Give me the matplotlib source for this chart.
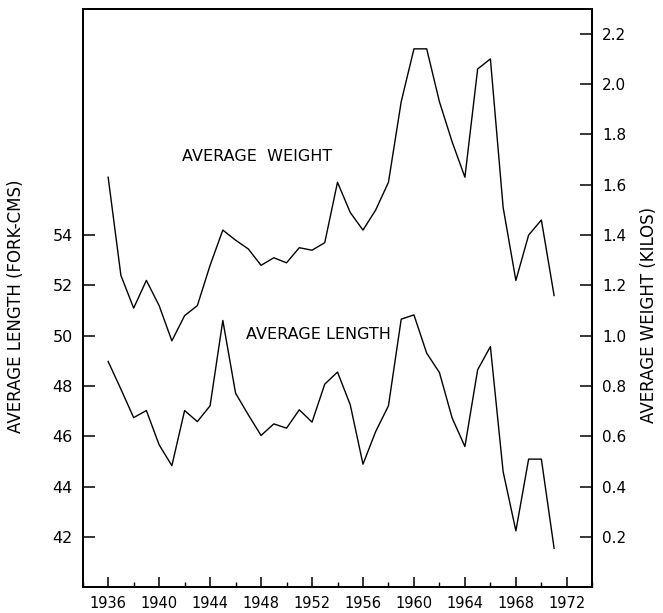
import matplotlib
matplotlib.use("Agg")
import matplotlib.pyplot as plt
from matplotlib.ticker import MultipleLocator, FixedLocator

plt.rcParams['font.family'] = 'DejaVu Sans'

# Yearly averages for the catch
years = list(range(1936, 1972))
avg_length = [48.98, 47.88, 46.75, 47.03, 45.67, 44.84, 47.03, 46.59, 47.22, 50.61,
              47.72, 46.86, 46.04, 46.50, 46.33, 47.06, 46.57, 48.08, 48.56, 47.26,
              44.90, 46.20, 47.22, 50.66, 50.83, 49.31, 48.54, 46.73, 45.60, 48.65,
              49.57, 44.60, 42.25, 45.10, 45.10, 41.56]
avg_weight = [1.63, 1.24, 1.11, 1.22, 1.12, 0.98, 1.08, 1.12, 1.28, 1.42,
              1.38, 1.345, 1.28, 1.31, 1.29, 1.35, 1.34, 1.37, 1.61, 1.49,
              1.42, 1.50, 1.61, 1.93, 2.14, 2.14, 1.93, 1.77, 1.63, 2.06,
              2.10, 1.51, 1.22, 1.40, 1.46, 1.16]

length_ticks = [42, 44, 46, 48, 50, 52, 54]
weight_ticks = [0.2, 0.4, 0.6, 0.8, 1.0, 1.2, 1.4, 1.6, 1.8, 2.0, 2.2]
year_ticks = list(range(1936, 1973, 4))

fig = plt.figure(figsize=(6.63, 6.13), dpi=100)
ax1 = fig.add_axes([0.1247, 0.0416, 0.7687, 0.9444])
ax2 = ax1.twinx()

ax1.plot(years, avg_length, color='black', lw=1.0)
ax2.plot(years, avg_weight, color='black', lw=1.0)

ax1.set_xlim(1934, 1974)
ax1.set_ylim(40, 63)
ax2.set_ylim(0, 2.3)

ax1.xaxis.set_major_locator(FixedLocator(year_ticks))
ax1.xaxis.set_minor_locator(MultipleLocator(2))
ax1.set_xticklabels([str(y) for y in year_ticks])
ax1.yaxis.set_major_locator(FixedLocator(length_ticks))
ax1.set_yticklabels([str(v) for v in length_ticks])
ax2.yaxis.set_major_locator(FixedLocator(weight_ticks))
ax2.set_yticklabels([f'{v:.1f}' for v in weight_ticks])

ax1.tick_params(axis='x', which='major', direction='in', length=7, width=1.1,
                pad=6, labelsize=10.5)
ax1.tick_params(axis='x', which='minor', direction='in', length=3.5, width=1.0)
ax1.tick_params(axis='y', direction='in', length=8.5, width=1.1, pad=7, labelsize=11.5)
ax2.tick_params(axis='y', direction='in', length=8.5, width=1.1, pad=7, labelsize=11)

for ax in (ax1, ax2):
    for s in ax.spines.values():
        s.set_linewidth(1.3)

ax1.set_ylabel('AVERAGE LENGTH (FORK-CMS)', fontsize=12)
ax1.yaxis.set_label_coords(-0.113, 0.485)
ax2.set_ylabel('AVERAGE WEIGHT (KILOS)', fontsize=12, rotation=90)
ax2.yaxis.set_label_coords(1.093, 0.47)

ax1.text(1941.8, 40 + 10 * 1.713, 'AVERAGE  WEIGHT', fontsize=11.5, va='center', ha='left')
ax1.text(1946.8, 50.07, 'AVERAGE LENGTH', fontsize=11.5, va='center', ha='left')

fig.savefig('out.png', dpi=100)
